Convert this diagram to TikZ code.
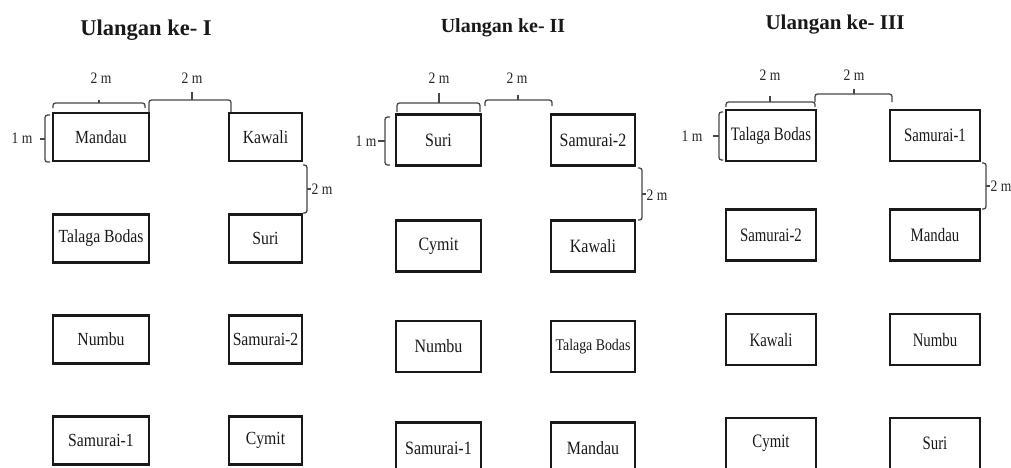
\documentclass[tikz,border=0pt]{standalone}
\usepackage{fontspec}
\setmainfont{Liberation Serif}
\newfontfamily\cfont{Liberation Serif}[FakeStretch=0.85]
\newfontfamily\dfont{Liberation Serif}[FakeStretch=0.78]
\newcommand\HBr[6]{% x1 x2 ybar yend xtick ytick
  \draw[brl] (#1,#4) -- (#1,#3) -- (#2,#3) -- (#2,#4);
  \draw[brl] (#5,#3) -- (#5,#6);}
\newcommand\VBr[6]{% xbar xend y1 y2 ytick xtick
  \draw[brl] (#2,#3) -- (#1,#3) -- (#1,#4) -- (#2,#4);
  \draw[brl] (#1,#5) -- (#6,#5);}
\begin{document}
\begin{tikzpicture}[x=1pt,y=-1pt,
  plot/.style={draw=black!90, line width=2.5pt, inner sep=0pt, outer sep=0pt, text=black!90},
  ttl/.style={font=\bfseries\fontsize{#1}{#1}\selectfont, anchor=base, text=black!90},
  dim/.style={font=\cfont\fontsize{16}{16}\selectfont, text=black!85},
  brl/.style={line width=1.3pt, draw=black!72, rounded corners=2.5pt}
]
\useasboundingbox (0,0) rectangle (1011,467);

% ---------------- Ulangan ke- I ----------------
\node[ttl=22.5] (t1) at (146,35) {Ulangan ke- I};
\begin{scope}[every node/.append style={minimum height=48, font=\cfont\fontsize{18.5}{18.5}\selectfont}]
\node[plot, minimum width=96] (p1a1) at (101,137) {Mandau};
\node[plot, minimum width=96] (p1a2) at (101,238.5) {Talaga Bodas};
\node[plot, minimum width=96] (p1a3) at (101,339.5) {Numbu};
\node[plot, minimum width=96] (p1a4) at (101,440.5) {Samurai-1};
\node[plot, minimum width=73] (p1b1) at (265.5,137) {Kawali};
\node[plot, minimum width=73] (p1b2) at (265.5,238.5) {Suri};
\node[plot, minimum width=73] (p1b3) at (265.5,339.5) {Samurai-2};
\node[plot, minimum width=73] (p1b4) at (265.5,440.5) {Cymit};
\end{scope}
\HBr{53}{145}{103}{108}{99}{100}
\HBr{149}{231}{100}{112}{192}{92}
\VBr{45}{50}{115}{162}{139}{40}
\VBr{307}{303}{165}{213}{189}{311}
\node[dim] (p1d1) at (101,78) {2 m};
\node[dim] (p1d2) at (192,78) {2 m};
\node[dim] (p1d3) at (22,138) {1 m};
\node[dim] (p1d4) at (322,189) {2 m};

% ---------------- Ulangan ke- II ----------------
\node[ttl=20] (t2) at (503,32) {Ulangan ke- II};
\begin{scope}[every node/.append style={minimum height=51, font=\cfont\fontsize{18.8}{18.8}\selectfont}]
\node[plot, minimum width=85] (p2a1) at (438.5,140) {Suri};
\node[plot, minimum width=85] (p2a2) at (438.5,246) {Cymit};
\node[plot, minimum width=85] (p2a3) at (438.5,346.5) {Numbu};
\node[plot, minimum width=85] (p2a4) at (438.5,448) {Samurai-1};
\node[plot, minimum width=84] (p2b1) at (593,140) {Samurai-2};
\node[plot, minimum width=84] (p2b2) at (593,246) {Kawali};
\node[plot, minimum width=84, font=\cfont\fontsize{16.3}{16.3}\selectfont] (p2b3) at (593,346.5) {Talaga Bodas};
\node[plot, minimum width=84] (p2b4) at (593,448) {Mandau};
\end{scope}
\HBr{397}{480}{103}{112}{439}{93}
\HBr{485}{552}{100}{106}{518}{95}
\VBr{385}{390}{117}{165}{141}{378}
\VBr{642}{638}{168}{220}{194}{646}
\node[dim] (p2d1) at (439,78) {2 m};
\node[dim] (p2d2) at (517,78) {2 m};
\node[dim] (p2d3) at (366,141) {1 m};
\node[dim] (p2d4) at (657,195) {2 m};

% ---------------- Ulangan ke- III ----------------
\node[ttl=21] (t3) at (835,29) {Ulangan ke- III};
\begin{scope}[every node/.append style={minimum height=51, font=\dfont\fontsize{19}{19}\selectfont}]
\node[plot, minimum width=90] (p3a1) at (771,135.5) {Talaga Bodas};
\node[plot, minimum width=90] (p3a2) at (771,235) {Samurai-2};
\node[plot, minimum width=90] (p3a3) at (771,339.5) {Kawali};
\node[plot, minimum width=90] (p3a4) at (771,443.5) {Cymit};
\node[plot, minimum width=90] (p3b1) at (935,135.5) {Samurai-1};
\node[plot, minimum width=90] (p3b2) at (935,235) {Mandau};
\node[plot, minimum width=90] (p3b3) at (935,339.5) {Numbu};
\node[plot, minimum width=90] (p3b4) at (935,443.5) {Suri};
\end{scope}
\HBr{726}{815}{102}{107}{770}{96}
\HBr{815}{892}{94}{102}{854}{89}
\VBr{719}{723}{112}{160}{136}{713}
\VBr{986}{982}{163}{209}{186}{990}
\node[dim] (p3d1) at (770,75) {2 m};
\node[dim] (p3d2) at (854,75) {2 m};
\node[dim] (p3d3) at (692,136) {1 m};
\node[dim] (p3d4) at (1001,186) {2 m};
\end{tikzpicture}
\end{document}
